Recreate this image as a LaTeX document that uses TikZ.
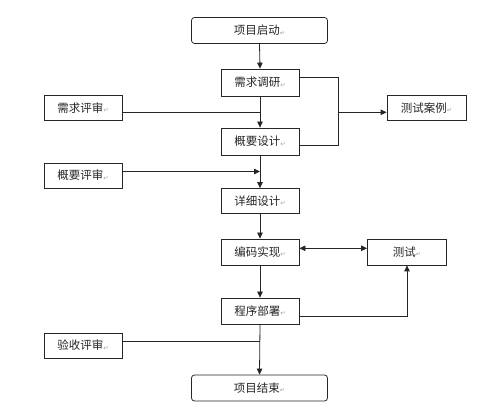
\documentclass[tikz,border=0pt]{standalone}
\usepackage{fontspec}
\setmainfont{Noto Sans CJK SC}
\newfontfamily\symfont{DejaVu Sans}
\usetikzlibrary{arrows.meta}
\newcommand{\pmark}{{\symfont\fontsize{6.5}{6.5}\selectfont\color{gray!70}\raisebox{-0.5pt}{↵}}}
\tikzset{
  box/.style={draw=black!85, line width=0.8pt, fill=white, minimum width=78pt, minimum height=26pt, inner sep=0pt, font=\fontsize{11.5}{13}\selectfont, text=black!85},
  rbox/.style={box, rounded corners=3pt, minimum width=136pt},
  conn/.style={draw=black!85, line width=0.8pt},
  arr/.style={conn, -{Triangle[length=6pt,width=5.5pt]}},
  darr/.style={conn, {Triangle[length=6pt,width=5.5pt]}-{Triangle[length=6pt,width=5.5pt]}}
}
\begin{document}
\begin{tikzpicture}[x=1pt,y=-1pt]
\useasboundingbox (0,0) rectangle (500,411);
% main column
\node[rbox] (start) at (259.5,30.5) {项目启动\pmark};
\node[box, minimum height=27pt] (xqdy) at (260,82.5) {需求调研\pmark};
\node[box, minimum height=27pt] (gysj) at (260,141.5) {概要设计\pmark};
\node[box, minimum height=25pt] (xxsj) at (260,201) {详细设计\pmark};
\node[box] (bmsx) at (260,252) {编码实现\pmark};
\node[box] (cxbs) at (260,311) {程序部署\pmark};
\node[rbox] (end) at (259.5,388) {项目结束\pmark};
% left reviews
\node[box, minimum height=25pt] (xqps) at (83,108) {需求评审\pmark};
\node[box, minimum height=25pt] (gyps) at (83,175.5) {概要评审\pmark};
\node[box, minimum height=25pt] (ysps) at (83,345.5) {验收评审\pmark};
% right
\node[box, minimum width=79pt, minimum height=25pt] (csal) at (426.5,108) {测试案例\pmark};
\node[box, minimum width=79pt] (cs) at (407,252) {测试\pmark};
% junction coordinates
\coordinate (j1) at (260,112);
\coordinate (j2) at (260,171.5);
\coordinate (j3) at (260,341);
\coordinate (b1) at (338,77.5);
\coordinate (b2) at (338,145);
\coordinate (bm) at (338,112.3);
\coordinate (t1) at (407,316);
% main arrows
\draw[arr] (start.south) -- (xqdy.north);
\draw[arr] (xqdy.south) -- (gysj.north);
\draw[arr] (gysj.south) -- (xxsj.north);
\draw[arr] (xxsj.south) -- (bmsx.north);
\draw[arr] (bmsx.south) -- (cxbs.north);
\draw[arr] (cxbs.south) -- (end.north);
% reviews
\draw[conn] (xqps.east |- j1) -- (j1);
\draw[arr] (gyps.east |- j2) -- (j2);
\draw[conn] (ysps.east |- j3) -- (j3);
% bracket to test cases
\draw[conn] (xqdy.east |- b1) -- (b1) -- (b2) -- (gysj.east |- b2);
\draw[arr] (bm) -- (csal.west |- bm);
% coding <-> test
\draw[darr] (bmsx.east |- 0,248.3) -- (cs.west |- 0,248.3);
\draw[arr] (cxbs.east |- t1) -- (t1) -- (cs.south);
\end{tikzpicture}
\end{document}
